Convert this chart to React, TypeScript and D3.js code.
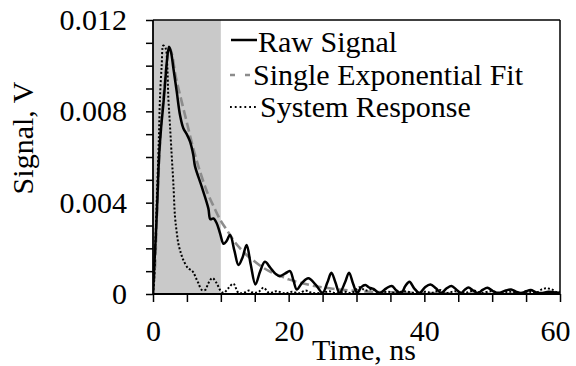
import React, { useEffect, useRef } from 'react';
import * as d3 from 'd3';

// Values in mV (chart axis shows volts)
const rawTime = [0, 0.15, 0.44, 0.64, 0.8, 0.95, 1.2, 1.52, 1.8, 2.05, 2.36, 2.65, 3.0, 3.5, 3.98, 4.47, 4.97, 5.46, 5.94, 6.19, 7.18, 8.16, 8.45, 8.9, 9.39, 9.88, 10.4, 10.8, 11.36, 12.0, 12.6, 13.2, 13.8, 14.4, 15.1, 15.8, 16.5, 17.3, 18.0, 18.7, 19.5, 20.2, 20.7, 21.2, 22.0, 22.9, 24.0, 25.0, 25.7, 26.3, 26.9, 27.5, 28.3, 28.9, 29.5, 30.1, 30.7, 31.3, 31.9, 32.5, 33.4, 34.4, 35.2, 35.9, 36.6, 37.2, 37.8, 38.5, 39.3, 40.1, 40.9, 41.7, 42.5, 43.3, 44.0, 44.7, 45.4, 46.0, 46.5, 47.2, 47.9, 48.6, 49.3, 50.1, 50.9, 52.0, 52.8, 53.5, 54.3, 55.0, 55.7, 56.4, 57.2, 58.3, 59.0, 60.0];
const rawSignal = [0, 1.0, 2.7, 4.1, 5.4, 6.3, 7.3, 8.3, 9.3, 10.2, 10.83, 10.6, 9.9, 8.86, 7.84, 7.26, 7.0, 6.67, 6.09, 5.6, 4.7, 3.75, 3.28, 3.31, 3.1, 2.66, 2.2, 2.3, 2.58, 1.9, 1.27, 1.6, 2.15, 1.3, 0.42, 1.0, 1.41, 1.15, 0.9, 0.78, 0.9, 1.0, 0.6, 0.2, 0.5, 0.69, 0.4, 0.05, 0.5, 0.93, 0.5, 0.05, 0.5, 0.93, 0.45, 0.05, 0.3, 0.39, 0.28, 0.22, 0.04, 0.25, 0.35, 0.15, 0.04, 0.35, 0.54, 0.25, 0.04, 0.3, 0.42, 0.25, 0.05, 0.25, 0.35, 0.2, 0.04, 0.2, 0.28, 0.15, 0.04, 0.18, 0.27, 0.13, 0.04, 0.15, 0.2, 0.1, 0.04, 0.12, 0.17, 0.08, 0.04, 0.1, 0.08, 0.05];

const fitTime = [0, 0.3, 0.6, 0.9, 1.2, 1.6, 2.0, 2.4, 2.8, 3.3, 4, 5, 6, 7, 8, 9, 10, 11, 12, 13, 14, 15, 16, 17, 18, 19, 20, 22, 24, 26, 28, 30, 32, 35, 40, 45, 50, 55, 60];
const fitSignal = [0, 1.2, 3.6, 5.8, 7.4, 8.8, 10.0, 10.8, 10.5, 9.6, 8.7, 7.5, 6.3, 5.3, 4.45, 3.8, 3.2, 2.75, 2.3, 1.95, 1.65, 1.42, 1.2, 1.02, 0.88, 0.76, 0.64, 0.47, 0.34, 0.25, 0.18, 0.13, 0.1, 0.07, 0.04, 0.02, 0.01, 0.01, 0];

const sysTime = [0, 0.15, 0.35, 0.55, 0.7, 0.8, 0.9, 1.03, 1.28, 1.52, 1.87, 2.1, 2.26, 2.5, 2.75, 3.0, 3.24, 3.5, 3.73, 4.1, 4.47, 5.2, 5.6, 5.95, 6.3, 6.7, 7.18, 7.7, 8.16, 8.75, 9.39, 9.88, 10.4, 11.1, 11.85, 12.6, 13.4, 14.1, 14.8, 15.6, 16.3, 17.1, 18.2, 19.5, 20.5, 21.5, 22.5, 23.5, 25, 26, 27, 28.2, 29.3, 30.5, 31.3, 32.3, 33.3, 34.5, 35.8, 37, 38.5, 40, 41.2, 42.3, 43.3, 44.5, 46, 47.3, 48.3, 49.8, 51.2, 52.5, 54, 55.5, 56.5, 57.3, 58, 58.8, 59.5, 60];
const sysSignal = [0, 0.5, 2.2, 4.0, 5.3, 6.2, 7.2, 8.6, 10.0, 10.88, 10.76, 10.0, 8.6, 7.4, 6.1, 4.85, 3.4, 2.7, 2.22, 1.8, 1.49, 1.12, 1.05, 0.95, 0.72, 0.47, 0.18, 0.18, 0.47, 0.7, 0.47, 0.18, 0.05, 0.25, 0.45, 0.05, 0.05, 0.15, 0.05, 0.1, 0.28, 0.05, 0.12, 0.03, 0.1, 0.03, 0.15, 0.05, 0.05, 0.12, 0.03, 0.1, 0.05, 0.3, 0.15, 0.22, 0.05, 0.1, 0.05, 0.12, 0.05, 0.1, 0.05, 0.18, 0.05, 0.12, 0.05, 0.15, 0.05, 0.12, 0.05, 0.1, 0.05, 0.1, 0.05, 0.2, 0.25, 0.2, 0.08, 0.1];

const shadeRange = [0, 10];
const xTicks = [0, 5, 10, 15, 20, 25, 30, 35, 40, 45, 50, 55, 60];
const xTickLabels = ['0', '', '', '', '20', '', '', '', '40', '', '', '', '60'];
const yTicks = [0, 1, 2, 3, 4, 5, 6, 7, 8, 9, 10, 11, 12];
const yTickLabels = ['0', '', '', '', '0.004', '', '', '', '0.008', '', '', '', '0.012'];
const legendLabels = ['Raw Signal', 'Single Exponential Fit', 'System Response'];

const W = 576, H = 366;
const M = { left: 153, right: 560, top: 20, bottom: 294 };
const FONT = '"Liberation Serif", "Times New Roman", serif';

export default function App() {
  const xAxisRef = useRef<SVGGElement>(null);
  const yAxisRef = useRef<SVGGElement>(null);

  const x = d3.scaleLinear().domain([0, 60]).range([M.left, M.right]);
  const y = d3.scaleLinear().domain([0, 12]).range([M.bottom, M.top]);

  const mk = (ts: number[], vs: number[]) => ts.map((t, i) => [t, vs[i]] as [number, number]);
  const line = d3.line<[number, number]>().x(d => x(d[0])).y(d => y(d[1])).curve(d3.curveCatmullRom.alpha(0.5));
  const rawPath = line(mk(rawTime, rawSignal)) || '';
  const fitPath = line(mk(fitTime, fitSignal)) || '';
  const sysPath = line(mk(sysTime, sysSignal)) || '';

  useEffect(() => {
    const gx = d3.select(xAxisRef.current!);
    gx.call(
      d3.axisBottom(x).tickValues(xTicks).tickSize(8).tickSizeOuter(0)
        .tickFormat((_d, i) => xTickLabels[i])
    );
    gx.select('.domain').remove();
    gx.selectAll('.tick line').attr('stroke', '#000').attr('stroke-width', 1.5);
    gx.selectAll<SVGTextElement, number>('.tick text')
      .attr('y', 47).attr('dy', null)
      .attr('x', (d) => (d === 60 ? -5 : 0))
      .attr('font-size', 30).attr('font-family', FONT).attr('fill', '#000');

    const gy = d3.select(yAxisRef.current!);
    gy.call(
      d3.axisLeft(y).tickValues(yTicks).tickSize(7).tickSizeOuter(0).tickPadding(19)
        .tickFormat((_d, i) => yTickLabels[i])
    );
    gy.select('.domain').remove();
    gy.selectAll('.tick line').attr('stroke', '#000').attr('stroke-width', 1.5);
    gy.selectAll('.tick text')
      .attr('font-size', 30).attr('font-family', FONT).attr('fill', '#000');
  });

  const legendBase = [52, 85, 117];
  const legendTextX = [258, 253, 260];

  return (
    <svg width={W} height={H} style={{ position: 'absolute', left: 0, top: 0, background: '#fff' }}>
      <defs>
        <clipPath id="plot">
          <rect x={M.left} y={M.top} width={M.right - M.left} height={M.bottom - M.top} />
        </clipPath>
      </defs>
      <rect x={0} y={0} width={W} height={H} fill="#fff" />
      <rect x={x(shadeRange[0])} y={M.top} width={x(shadeRange[1]) - x(shadeRange[0])} height={M.bottom - M.top} fill="#c9c9c9" />
      <g clipPath="url(#plot)" fill="none">
        <path d={fitPath} stroke="#8c8c8c" strokeWidth={2.6} strokeDasharray="9,4" />
        <path d={sysPath} stroke="#000" strokeWidth={2} strokeDasharray="2,2" />
        <path d={rawPath} stroke="#000" strokeWidth={2.5} />
      </g>
      <g ref={xAxisRef} transform={`translate(0,${M.bottom})`} />
      <g ref={yAxisRef} transform={`translate(${M.left},0)`} />
      <line x1={M.left} x2={M.right} y1={M.bottom} y2={M.bottom} stroke="#000" strokeWidth={1.8} />
      <line x1={M.left} x2={M.left} y1={M.top} y2={M.bottom} stroke="#000" strokeWidth={1.8} />
      <line x1={M.left} x2={M.right} y1={M.top} y2={M.top} stroke="#000" strokeWidth={1.5} />
      <line x1={M.right} x2={M.right} y1={M.top} y2={M.bottom} stroke="#000" strokeWidth={1.5} />

      <g fontFamily={FONT} fontSize={30} fill="#000">
        <line x1={231} x2={257} y1={legendBase[0] - 12} y2={legendBase[0] - 12} stroke="#000" strokeWidth={2.5} />
        <line x1={230} x2={251} y1={legendBase[1] - 10} y2={legendBase[1] - 10} stroke="#8c8c8c" strokeWidth={2.6} strokeDasharray="5,10" />
        <line x1={230} x2={258} y1={legendBase[2] - 10} y2={legendBase[2] - 10} stroke="#000" strokeWidth={1.8} strokeDasharray="1.8,3" />
        {legendLabels.map((l, i) => (
          <text key={l} x={legendTextX[i]} y={legendBase[i]}>{l}</text>
        ))}
        <text x={364} y={360} textAnchor="middle">Time, ns</text>
        <text transform="translate(33,138) rotate(-90)" textAnchor="middle">Signal, V</text>
      </g>
    </svg>
  );
}
